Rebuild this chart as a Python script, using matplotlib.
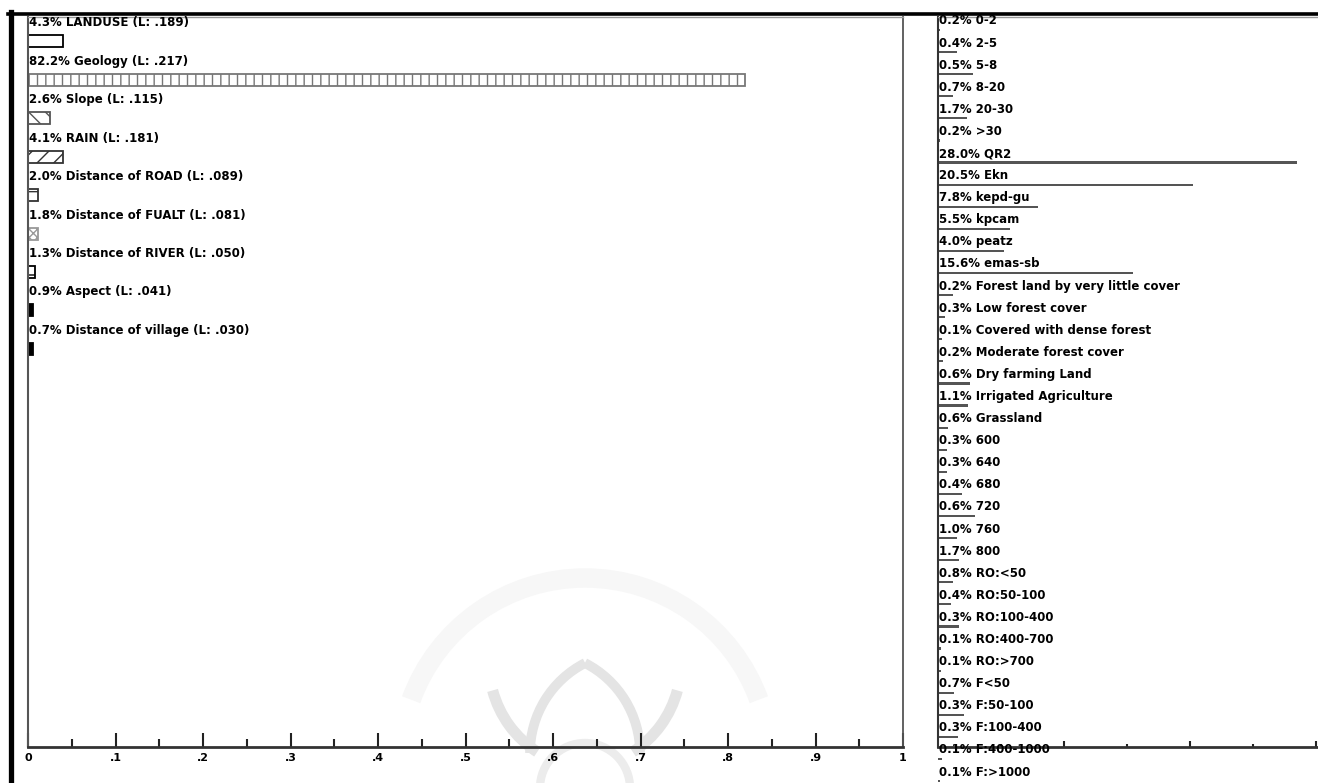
import numpy as np
import matplotlib.pyplot as plt
from matplotlib.patches import Arc
from matplotlib.lines import Line2D

# factor summary (left panel)
factor_labels = ['4.3% LANDUSE (L: .189)', '82.2% Geology (L: .217)', '2.6% Slope (L: .115)',
                 '4.1% RAIN (L: .181)', '2.0% Distance of ROAD (L: .089)',
                 '1.8% Distance of FUALT (L: .081)', '1.3% Distance of RIVER (L: .050)',
                 '0.9% Aspect (L: .041)', '0.7% Distance of village (L: .030)']
factor_bars = [0.040, 0.819, 0.025, 0.040, 0.011, 0.011, 0.008, 0.006, 0.006]
factor_hatch = ['', '||', '\\\\', '//', '-', 'xxxx', '-', '', '']
factor_face = ['white', 'white', 'white', 'white', 'white', 'white', 'white', 'black', 'black']
factor_edge = ['black', '#777777', '#555555', '#333333', '#333333', '#999999', 'black', 'black', 'black']

# class summary (right panel)
class_labels = ['0.2% 0-2', '0.4% 2-5', '0.5% 5-8', '0.7% 8-20', '1.7% 20-30', '0.2% >30',
                '28.0% QR2', '20.5% Ekn', '7.8% kepd-gu', '5.5% kpcam', '4.0% peatz', '15.6% emas-sb',
                '0.2% Forest land by very little cover', '0.3% Low forest cover',
                '0.1% Covered with dense forest', '0.2% Moderate forest cover',
                '0.6% Dry farming Land', '1.1% Irrigated Agriculture', '0.6% Grassland',
                '0.3% 600', '0.3% 640', '0.4% 680', '0.6% 720', '1.0% 760', '1.7% 800',
                '0.8% RO:<50', '0.4% RO:50-100', '0.3% RO:100-400', '0.1% RO:400-700', '0.1% RO:>700',
                '0.7% F<50', '0.3% F:50-100', '0.3% F:100-400', '0.1% F:400-1000', '0.1% F:>1000']
class_bars = [0.0016, 0.015, 0.028, 0.012, 0.023, 0.0016, 0.285, 0.202, 0.079, 0.057, 0.052, 0.155,
              0.012, 0.0056, 0.003, 0.004, 0.025, 0.024, 0.008, 0.007, 0.007, 0.019, 0.029, 0.015,
              0.017, 0.012, 0.010, 0.017, 0.0024, 0.0024, 0.013, 0.021, 0.016, 0.003, 0.0016]

tick_labels = ['0', '.1', '.2', '.3', '.4', '.5', '.6', '.7', '.8', '.9', '1']

W, H = 1318, 783
fig = plt.figure(figsize=(W / 100, H / 100), dpi=100)
fig.patch.set_facecolor('white')

### faint watermark behind everything
wm = fig.add_axes([0, 0, 1, 1], zorder=0)
wm.set_xlim(0, W)
wm.set_ylim(0, H)
wm.axis('off')
wm_col = '#e4e4e4'
wm.add_patch(Arc((585, 20), 370, 370, theta1=20, theta2=160, color='#f7f7f7', lw=14))
wm.add_patch(Arc((631, 30), 202, 202, theta1=117, theta2=180, color=wm_col, lw=7))
wm.add_patch(Arc((539, 30), 202, 202, theta1=0, theta2=63, color=wm_col, lw=7))
wm.add_patch(Arc((595, 120), 212, 212, theta1=195, theta2=237, color=wm_col, lw=8))
wm.add_patch(Arc((575, 120), 212, 212, theta1=303, theta2=345, color=wm_col, lw=8))
wm.add_patch(Arc((585, -5), 90, 90, theta1=0, theta2=180, color='#ececec', lw=6))

### left panel
ax = fig.add_axes([28 / W, 1 - 747 / H, 875 / W, 730 / H], zorder=1)
ax.patch.set_alpha(0)
ax.set_xlim(0, 1)
ax.set_ylim(730, 0)
step = 38.4
for i, lab in enumerate(factor_labels):
    ax.text(0.001, 6 + step * i, lab, va='center', ha='left', fontsize=8.5, fontweight='bold')
bars = ax.barh([24.5 + step * i for i in range(len(factor_bars))], factor_bars, height=12, left=0)
for b, h, fc, ec in zip(bars, factor_hatch, factor_face, factor_edge):
    b.set_facecolor(fc)
    b.set_edgecolor(ec)
    b.set_linewidth(1.3)
    if h:
        b.set_hatch(h)

ax.set_xticks(np.arange(0, 1.01, 0.1))
ax.set_xticklabels(tick_labels, fontweight='bold')
ax.set_xticks(np.arange(0.05, 1.0, 0.1), minor=True)
ax.set_yticks([])
ax.tick_params(axis='x', which='major', direction='in', length=10, width=1.5, labelsize=8, pad=4,
               color='#222222')
ax.tick_params(axis='x', which='minor', direction='in', length=6, width=1.5, color='#222222')
ax.spines['bottom'].set_linewidth(2)
ax.spines['bottom'].set_color('#333333')
ax.spines['left'].set_linewidth(1.5)
ax.spines['left'].set_color('#555555')
ax.spines['right'].set_linewidth(1.3)
ax.spines['right'].set_color('#555555')
ax.spines['top'].set_linewidth(1)
ax.spines['top'].set_color('#999999')

### right panel (runs off the edge of the picture)
rax = fig.add_axes([938 / W, 1 - 747 / H, 420 / W, 730 / H], zorder=1)
rax.patch.set_alpha(0)
rax.set_xlim(0, 420 / 1260)
rax.set_ylim(730, 0)
rstep = 22.09
for i, lab in enumerate(class_labels):
    rax.text(0.0004, 4 + rstep * i, lab, va='center', ha='left', fontsize=8.5, fontweight='bold',
             clip_on=False)
rbars = rax.barh([13 + rstep * i for i in range(len(class_bars))], class_bars, height=2.2, left=0,
                 color='#555555', linewidth=0)
for b in rbars:
    b.set_clip_on(False)
rax.set_xticks([0.1, 0.2, 0.3])
rax.set_xticks([0.05, 0.15, 0.25], minor=True)
rax.set_xticklabels([])
rax.set_yticks([])
rax.tick_params(axis='x', which='major', direction='in', length=4, width=1.5, color='#222222')
rax.tick_params(axis='x', which='minor', direction='in', length=2, width=1.5, color='#222222')
rax.spines['bottom'].set_linewidth(2)
rax.spines['bottom'].set_color('#333333')
rax.spines['left'].set_linewidth(1.5)
rax.spines['left'].set_color('#333333')
rax.spines['top'].set_linewidth(1)
rax.spines['top'].set_color('#999999')
rax.spines['right'].set_visible(False)

### black window frame
fig.add_artist(Line2D([8 / W, 1], [1 - 13.5 / H, 1 - 13.5 / H], color='black', lw=2.6))
fig.add_artist(Line2D([10.5 / W, 10.5 / W], [0, 1 - 12 / H], color='black', lw=3.8))

fig.savefig('out.png', dpi=100)
